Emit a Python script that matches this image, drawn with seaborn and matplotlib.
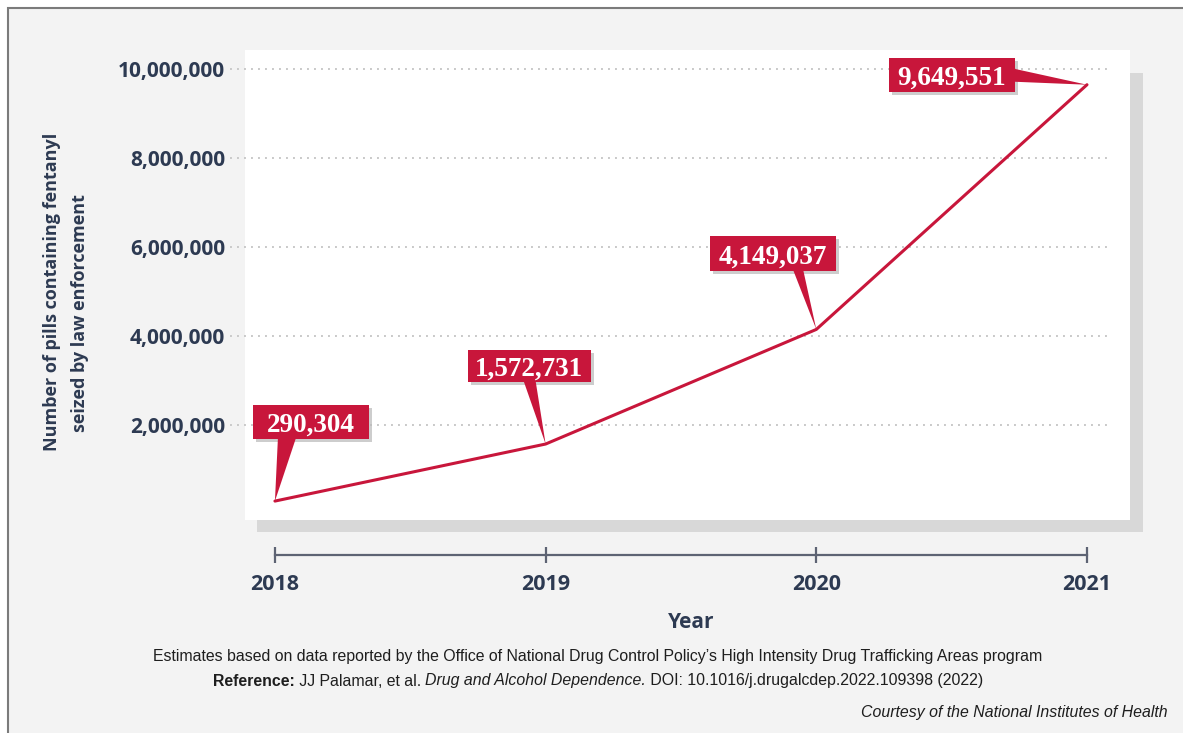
import numpy as np
import pandas as pd
import matplotlib
matplotlib.use("Agg")
import matplotlib.pyplot as plt
import seaborn as sns
from matplotlib import font_manager
from matplotlib.patches import Rectangle, Polygon
from matplotlib.transforms import Affine2D, ScaledTranslation

# ---------------- data ----------------
years = [2018, 2019, 2020, 2021]
pills = [290304, 1572731, 4149037, 9649551]
value_labels = ["290,304", "1,572,731", "4,149,037", "9,649,551"]
y_ticks = [2000000, 4000000, 6000000, 8000000, 10000000]
y_tick_labels = ["2,000,000", "4,000,000", "6,000,000", "8,000,000", "10,000,000"]
x_tick_labels = ["2018", "2019", "2020", "2021"]
y_label_lines = ["Number of pills containing fentanyl", "seized by law enforcement"]
x_label = "Year"
note_line1 = ("Estimates based on data reported by the Office of National Drug Control "
              "Policy\u2019s High Intensity Drug Trafficking Areas program")
note_line2 = [("Reference:", "bold", "normal"),
              (" JJ Palamar, et al. ", "normal", "normal"),
              ("Drug and Alcohol Dependence.", "normal", "italic"),
              (" DOI: 10.1016/j.drugalcdep.2022.109398 (2022)", "normal", "normal")]
credit = "Courtesy of the National Institutes of Health"

# ---------------- style ----------------
W, H = 1183, 733
RED = "#c8163b"
NAVY = "#2d3a52"
AXIS_GRAY = "#5d6373"

sns.set_theme(style="white")
plt.rcParams["font.family"] = ["Open Sans", "DejaVu Sans"]


def has_font(name):
    try:
        font_manager.findfont(font_manager.FontProperties(family=name),
                              fallback_to_default=False)
        return True
    except Exception:
        return False


if has_font("Liberation Sans Narrow"):
    NARROW, NSIZE = "Liberation Sans Narrow", 12.5
else:
    NARROW, NSIZE = "Liberation Sans", 11.4

SERIF = "Liberation Serif" if has_font("Liberation Serif") else "DejaVu Serif"

fig = plt.figure(figsize=(W / 100, H / 100), dpi=100, facecolor="white")


def fx(px):
    return px / W


def fy(py):
    return 1 - py / H


# outer frame / background
fig.patches.append(Rectangle((fx(8), fy(760)), fx(1200) - fx(8), fy(8) - fy(760),
                             transform=fig.transFigure, facecolor="#f3f3f3",
                             edgecolor="#7b7b7b", linewidth=1.5, zorder=-3))
# panel shadow and white panel
fig.patches.append(Rectangle((fx(257), fy(532)), fx(1143) - fx(257), fy(73) - fy(532),
                             transform=fig.transFigure, facecolor="#d8d8d8",
                             edgecolor="none", zorder=-2))
fig.patches.append(Rectangle((fx(245), fy(520)), fx(1130) - fx(245), fy(50) - fy(520),
                             transform=fig.transFigure, facecolor="white",
                             edgecolor="none", zorder=-1))

ax = fig.add_axes([fx(230), fy(520), fx(1110) - fx(230), fy(50) - fy(520)])
ax.set_facecolor("none")
ax.set_zorder(2)

df = pd.DataFrame({"year": years, "pills": pills})
sns.lineplot(data=df, x="year", y="pills", color=RED, linewidth=2.2, ax=ax, zorder=3)

ax.set_xlim(2017.834, 2021.085)
ax.set_ylim(-135000, 10430000)

ax.set_yticks(y_ticks)
ax.set_yticklabels(y_tick_labels)
ax.set_xticks(years)
ax.set_xticklabels(x_tick_labels)
ax.set_xlabel("")
ax.set_ylabel("")

ax.yaxis.grid(True, color="#c9c9c9", linestyle=(0, (1, 2.6)), linewidth=1.4)
ax.xaxis.grid(False)

for s in ["top", "right", "left"]:
    ax.spines[s].set_visible(False)
ax.spines["bottom"].set_visible(True)
ax.spines["bottom"].set_color(AXIS_GRAY)
ax.spines["bottom"].set_linewidth(1.6)
ax.spines["bottom"].set_bounds(years[0], years[-1])
ax.spines["bottom"].set_position(("outward", 25.2))

ax.tick_params(axis="y", length=0, pad=3.6, labelsize=15, labelcolor=NAVY)
ax.tick_params(axis="x", direction="inout", length=11.5, width=1.6, color=AXIS_GRAY,
               pad=8.0, labelsize=15.5, labelcolor=NAVY, bottom=True)
for lab in ax.get_yticklabels() + ax.get_xticklabels():
    lab.set_fontweight("bold")

# axis titles
fig.text(fx(691), fy(622), x_label, ha="center", va="center", fontsize=15,
         fontweight="bold", color=NAVY)
fig.text(fx(52), fy(292), y_label_lines[0], rotation=90, ha="center", va="center",
         fontsize=13, fontweight="bold", color=NAVY)
fig.text(fx(80), fy(313), y_label_lines[1], rotation=90, ha="center", va="center",
         fontsize=13, fontweight="bold", color=NAVY)

# callouts: box (x0, x1, y0, y1) and tail base points, in pixel offsets from the point
callouts = [
    ((-22, 94, 62, 96), [(3, 63), (21, 63)]),
    ((-78, 45, 62, 94), [(-22, 63), (-10, 63)]),
    ((-106, 20, 58, 93), [(-23, 59), (-13, 59)]),
    ((-198, -72, -7, 27), [(-73, 16), (-73, 3)]),
]
for xv, yv, txt, (box, tail) in zip(years, pills, value_labels, callouts):
    tr = Affine2D().scale(fig.dpi / 100) + ScaledTranslation(xv, yv, ax.transData)
    x0, x1, y0, y1 = box
    ax.add_patch(Rectangle((x0 + 3, y0 - 3), x1 - x0, y1 - y0, transform=tr,
                           facecolor="#b9b9b9", edgecolor="none", alpha=0.7,
                           zorder=4, clip_on=False))
    ax.add_patch(Rectangle((x0, y0), x1 - x0, y1 - y0, transform=tr,
                           facecolor=RED, edgecolor="none", zorder=5, clip_on=False))
    ax.add_patch(Polygon(tail + [(0, 0)], closed=True, transform=tr, facecolor=RED,
                         edgecolor="none", zorder=5, clip_on=False))
    ax.text((x0 + x1) / 2, (y0 + y1) / 2, txt, transform=tr, ha="center",
            va="center_baseline", color="white", fontsize=19.5, fontweight="bold",
            family=[SERIF, "DejaVu Serif"], zorder=6, clip_on=False)

# footer notes
fig.text(fx(598), fy(657), note_line1, ha="center", va="center", fontsize=NSIZE,
         family=[NARROW, "DejaVu Sans"], color="#1e1e1e")

renderer = fig.canvas.get_renderer()
pieces = []
for t, w, st in note_line2:
    pieces.append(fig.text(0, fy(681), t, ha="left", va="center", fontsize=NSIZE,
                           fontweight=w, fontstyle=st, family=[NARROW, "DejaVu Sans"],
                           color="#1e1e1e"))
widths = [p.get_window_extent(renderer).width for p in pieces]
start = 598 * fig.dpi / 100 - sum(widths) / 2
cur = start
for p, w in zip(pieces, widths):
    p.set_x(cur / (W * fig.dpi / 100))
    cur += w

fig.text(fx(1168), fy(712), credit, ha="right", va="center", fontsize=NSIZE,
         fontstyle="italic", family=[NARROW, "DejaVu Sans"], color="#1e1e1e")

fig.savefig("out.png", dpi=100, facecolor="white")
